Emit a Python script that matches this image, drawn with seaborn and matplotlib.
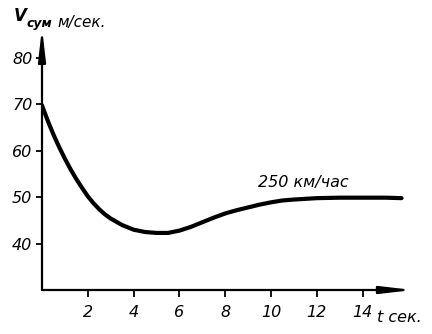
import matplotlib
matplotlib.use("Agg")
import matplotlib.pyplot as plt
from matplotlib.patches import FancyArrowPatch
import seaborn as sns
import pandas as pd

# Summed velocity vs time, read at 250 km/h
t_sec = [0, 0.25, 0.5, 0.75, 1.0, 1.25, 1.5, 1.75, 2.0, 2.25, 2.5, 2.75,
         3.0, 3.5, 4.0, 4.5, 5.0, 5.5, 6.0, 6.5, 7.0, 7.5, 8.0, 8.5, 9.0,
         9.5, 10.0, 10.5, 11.0, 12.0, 13.0, 14.0, 15.0, 15.7]
v_sum = [69.8, 66.5, 63.5, 60.8, 58.3, 56.0, 53.9, 52.0, 50.2, 48.7, 47.4,
         46.3, 45.4, 44.0, 43.0, 42.5, 42.3, 42.3, 42.8, 43.6, 44.6, 45.6,
         46.5, 47.2, 47.8, 48.4, 48.9, 49.3, 49.5, 49.8, 49.9, 49.9, 49.9,
         49.8]
x_ticks = [2, 4, 6, 8, 10, 12, 14]
y_ticks = [40, 50, 60, 70, 80]
curve_label = "250 км/час"

df = pd.DataFrame({"t": t_sec, "v": v_sum})

sns.set_theme(style="white")
plt.rcParams["font.family"] = ["DejaVu Sans"]

W, H = 432, 334
fig = plt.figure(figsize=(W / 100, H / 100), dpi=100)
ax = fig.add_axes([42 / W, (H - 290) / H, (413 - 42) / W, (290 - 33) / H])

sns.lineplot(data=df, x="t", y="v", ax=ax, color="black", linewidth=3.0,
             solid_capstyle="round", solid_joinstyle="round")

ax.set_xlim(0, 16.2)
ax.set_ylim(30, 85.4)
ax.set_xticks(x_ticks)
ax.set_yticks(y_ticks)
ax.set_xticklabels([str(v) for v in x_ticks], fontsize=11.5, style="italic")
ax.set_yticklabels([str(v) for v in y_ticks], fontsize=11.5, style="italic")
ax.tick_params(axis="x", direction="out", length=5, width=1.3, pad=5.5,
               colors="black", bottom=True)
ax.tick_params(axis="y", direction="out", length=4, width=1.3, pad=3,
               colors="black", left=True)
ax.set_xlabel("")
ax.set_ylabel("")
for s in ax.spines.values():
    s.set_visible(False)
ax.set_facecolor("white")

# Axes drawn as arrows
for start, end in [((0, 0), (1.0, 0)), ((0, 0), (0, 1.02))]:
    arr = FancyArrowPatch(start, end, transform=ax.transAxes,
                          arrowstyle="-|>,head_length=19,head_width=2.2",
                          mutation_scale=1, linewidth=1.6, color="black",
                          clip_on=False, shrinkA=0, shrinkB=0)
    ax.add_patch(arr)

ax.text(9.45, 53.2, curve_label, fontsize=11.5, style="italic",
        ha="left", va="center", color="black")

# Axis captions
def ftxt(x, y, s, **kw):
    fig.text(x / W, 1 - y / H, s, color="black", style="italic", **kw)

ftxt(14, 21, "V", fontsize=12, ha="left", va="baseline", fontweight="bold")
ftxt(27, 27, "сум", fontsize=9, ha="left", va="baseline", fontweight="bold")
ftxt(57, 27, "м/сек.", fontsize=11, ha="left", va="baseline")
ftxt(377, 322, "t сек.", fontsize=11.5, ha="left", va="baseline")

fig.savefig("out.png", dpi=100, facecolor="white")
